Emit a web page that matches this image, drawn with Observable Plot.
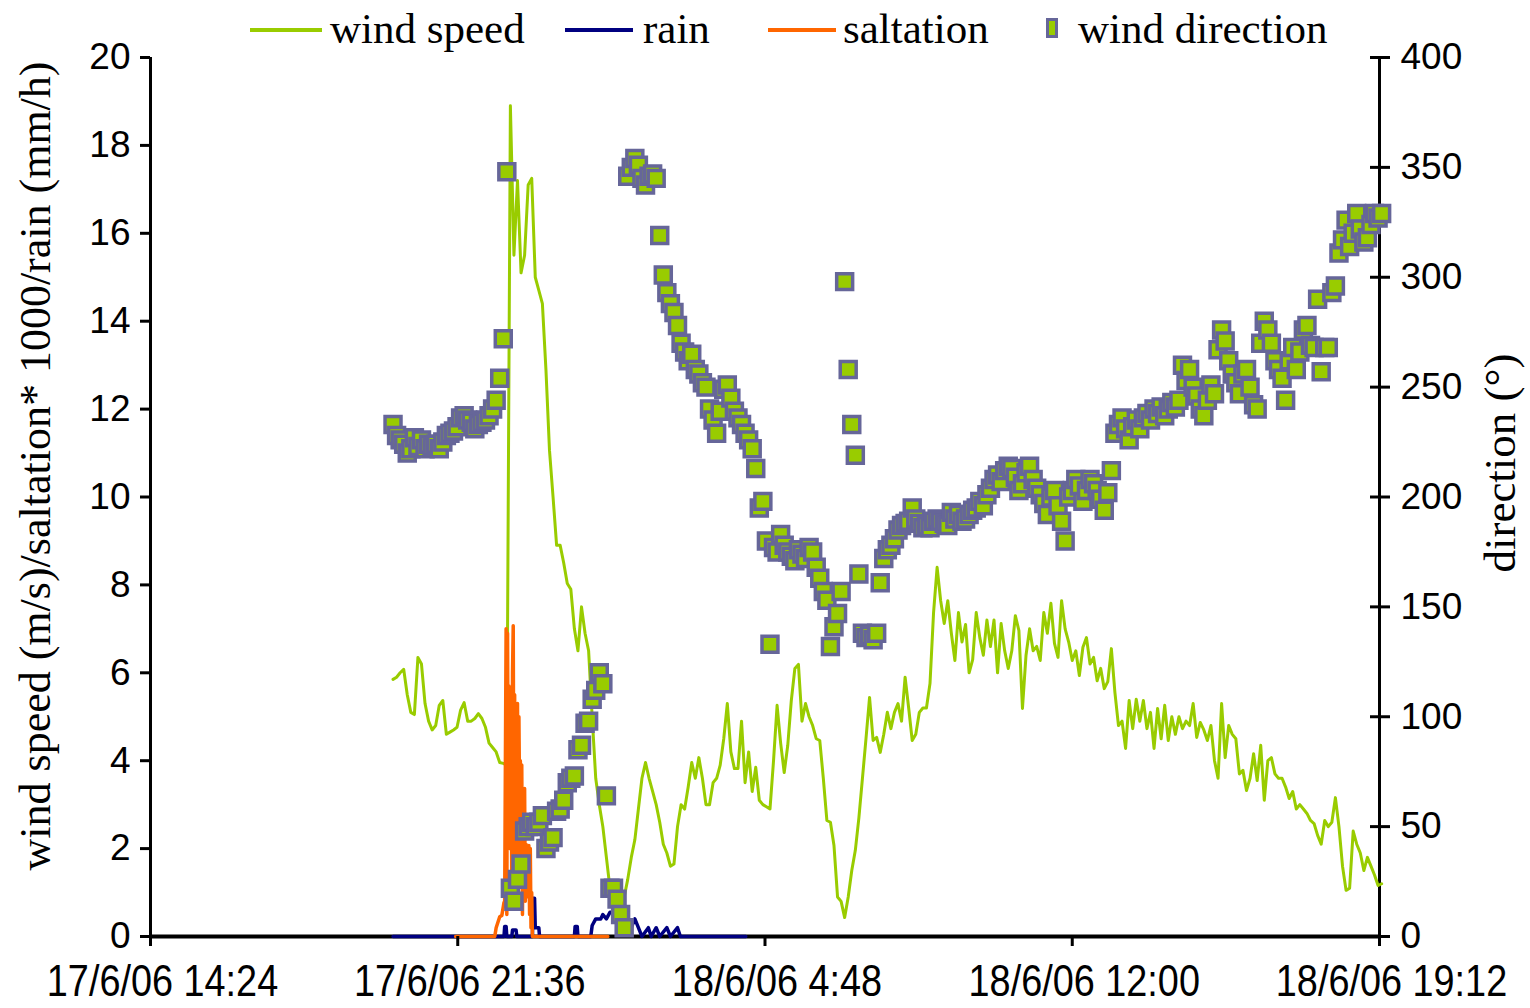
<!DOCTYPE html>
<html>
<head>
<meta charset="utf-8">
<script src="https://cdn.jsdelivr.net/npm/d3@7"></script>
<script src="https://cdn.jsdelivr.net/npm/@observablehq/plot@0.6"></script>
<style>
  body { margin: 0; background: #fff; }
  #wrap { position: relative; width: 1530px; height: 1008px; overflow: hidden; background: #fff; }
  #chart { position: absolute; left: 0; top: 0; }
  #legend { position: absolute; left: 0; top: 0; width: 1530px; height: 52px; z-index: 2;
            font-family: "Liberation Serif", "Times New Roman", serif; font-size: 43px; line-height: 1; }
  #legend .sw { position: absolute; height: 4px; }
  #legend .tx { position: absolute; white-space: pre; color: #000; }
  #legend .mk { position: absolute; box-sizing: border-box; border: 3px solid #666699; background: #99cc00; }
</style>
</head>
<body>
<div id="wrap">
  <div id="chart"></div>
  <div id="legend"></div>
</div>
<script>
// ---- data -------------------------------------------------------------
// wind speed (m/s) and wind direction (deg), 5-minute samples from 17/6/06 20:05
const windStart = "2006-06-17 20:05";
const windStepMinutes = 5;

const windSpeed = [
  5.85, 5.9, 6.0, 6.08, 5.5, 5.1, 5.05, 6.35, 6.2, 5.3,
  4.9, 4.7, 4.8, 5.26, 5.37, 4.6, 4.65, 4.7, 4.76, 5.15,
  5.32, 4.9, 4.9, 4.96, 5.07, 4.96, 4.76, 4.4, 4.3, 4.2,
  3.96, 3.94, 3.9, 18.9, 15.5, 17.2, 15.1, 15.5, 17.1, 17.25,
  15.0, 14.7, 14.4, 12.9, 11.06, 10.0, 8.9, 8.9, 8.5, 8.03,
  7.9, 7.0, 6.5, 7.5, 6.9, 6.5, 5.0, 3.6, 3.0, 2.5,
  1.8, 1.1, 0.6, 0.5, 0.6, 0.9, 1.3, 1.8, 2.2, 2.9,
  3.6, 3.96, 3.6, 3.3, 3.0, 2.6, 2.1, 1.9, 1.6, 1.65,
  2.5, 3.0, 2.9, 3.4, 3.96, 3.6, 4.07, 3.6, 3.0, 3.0,
  3.5, 3.6, 3.9, 4.5, 5.3, 4.2, 3.82, 3.82, 4.9, 3.5,
  4.2, 3.3, 3.85, 3.1, 3.0, 2.95, 2.9, 4.0, 5.26, 4.4,
  3.73, 4.35, 5.37, 6.1, 6.19, 4.9, 5.3, 5.0, 4.8, 4.5,
  4.46, 3.6, 2.64, 2.6, 2.07, 0.9, 0.8, 0.43, 0.9, 1.5,
  1.96, 2.7, 3.6, 4.5, 5.44, 4.46, 4.53, 4.19, 4.6, 5.1,
  4.73, 5.1, 5.3, 4.9, 5.9, 5.2, 4.46, 4.6, 5.1, 5.2,
  5.2, 5.76, 7.37, 8.4, 7.64, 7.12, 7.64, 6.9, 6.28, 7.37,
  6.7, 7.1, 6.0, 6.3, 7.37, 6.8, 6.4, 7.2, 6.6, 7.2,
  6.0, 7.12, 6.5, 6.1, 6.5, 7.3, 6.96, 5.19, 6.4, 7.0,
  6.5, 6.6, 6.28, 7.37, 6.9, 7.58, 6.67, 6.35, 7.64, 7.0,
  6.7, 6.28, 6.5, 5.94, 6.58, 6.8, 6.2, 6.35, 5.82, 6.1,
  5.64, 5.8, 6.55, 5.55, 4.8, 4.9, 4.28, 5.37, 4.73, 5.4,
  4.9, 5.37, 4.73, 5.1, 4.28, 5.19, 4.5, 5.26, 4.46, 5.0,
  4.6, 5.0, 4.73, 4.9, 4.8, 5.3, 4.53, 4.87, 4.7, 4.46,
  4.8, 4.0, 3.6, 5.3, 4.07, 4.8, 4.6, 4.5, 3.7, 3.78,
  3.32, 3.6, 4.16, 3.55, 4.35, 3.1, 4.0, 4.07, 3.7, 3.6,
  3.6, 3.4, 3.14, 3.3, 2.9, 3.0, 2.9, 2.8, 2.64, 2.57,
  2.3, 2.1, 2.64, 2.5, 2.6, 3.16, 2.5, 1.6, 1.05, 1.1,
  2.4, 2.1, 1.9, 1.5, 1.8, 1.6, 1.4, 1.16, 1.2
];

const windDirection = [
  233, 228, 226, 224, 220, 222, 227, 223, 226, 222,
  224, 223, 224, 222, 225, 228, 229, 230, 232, 236,
  237, 235, 234, 231, 233, 234, 235, 237, 240, 244,
  254, 272, 348, 22, 16, 26, 33, 48, 50, 52,
  50, 52, 55, 40, 43, 45, 57, 58, 62, 70,
  72, 73, 85, 87, 97, 98, 108, 112, 120, 115,
  64, 22, 22, 17, 10, 4, 346, 350, 354, 351,
  345, 342, 346, 347, 345, 319, 301, 293, 288, 284,
  278, 270, 266, 262, 265, 258, 256, 252, 250, 240,
  235, 229, 239, 249, 251, 245, 239, 236, 233, 229,
  226, 222, 213, 195, 198, 180, 133, 177, 175, 183,
  178, 175, 173, 171, 176, 174, 172, 177, 175, 168,
  163, 157, 153, 132, 141, 147, 157, 298, 258, 233,
  219, 165, 138, 136, 137, 135, 138, 161, 172, 176,
  178, 181, 185, 187, 188, 189, 195, 190, 188, 186,
  187, 186, 189, 190, 189, 188, 187, 193, 190, 192,
  189, 190, 192, 194, 195, 198, 196, 201, 204, 208,
  210, 207, 212, 214, 213, 209, 203, 206, 211, 214,
  208, 204, 201, 197, 192, 200, 203, 196, 189, 180,
  200, 203, 208, 205, 198, 203, 208, 206, 203, 199,
  194, 202, 212, 229, 233, 236, 231, 226, 232, 235,
  231, 236, 238, 235, 240, 238, 241, 237, 240, 243,
  241, 244, 260, 253, 258, 250, 246, 240, 237, 244,
  251, 247, 267, 276, 271, 262, 256, 252, 247, 256,
  258, 250, 242, 240, 270, 280, 276, 270, 262, 258,
  254, 244, 262, 268, 258, 266, 276, 278, 269, 268,
  290, 257, 268, 268, 293, 296, 311, 317, 326, 314,
  320, 329, 322, 316, 318, 324, 329, 327, 329
];

// rain (mm/h)
const rainTimes = [
  "2006-06-17 20:05", "2006-06-17 22:41", "2006-06-17 22:42", "2006-06-17 22:44", "2006-06-17 22:45",
  "2006-06-17 22:52", "2006-06-17 22:53", "2006-06-17 22:58", "2006-06-17 22:59", "2006-06-17 23:21",
  "2006-06-17 23:22", "2006-06-17 23:24", "2006-06-17 23:25", "2006-06-17 23:30", "2006-06-17 23:31",
  "2006-06-18 00:20", "2006-06-18 00:21", "2006-06-18 00:24", "2006-06-18 00:25", "2006-06-18 00:43",
  "2006-06-18 00:45", "2006-06-18 00:50", "2006-06-18 00:57", "2006-06-18 01:00", "2006-06-18 01:05",
  "2006-06-18 01:10", "2006-06-18 01:18", "2006-06-18 01:22", "2006-06-18 01:30", "2006-06-18 01:35",
  "2006-06-18 01:40", "2006-06-18 01:45", "2006-06-18 01:50", "2006-06-18 01:55", "2006-06-18 02:04",
  "2006-06-18 02:08", "2006-06-18 02:15", "2006-06-18 02:20", "2006-06-18 02:30", "2006-06-18 02:35",
  "2006-06-18 02:45", "2006-06-18 02:49", "2006-06-18 04:21"
];
const rainValues = [
  0, 0, 0.23, 0.23, 0,
  0, 0.15, 0.15, 0, 0,
  0.87, 0.87, 0.2, 0.2, 0,
  0, 0.23, 0.23, 0, 0,
  0.25, 0.4, 0.4, 0.5, 0.4,
  0.55, 0.55, 0.4, 0.4, 0.2,
  0.2, 0.4, 0.2, 0, 0.2,
  0, 0.2, 0, 0.2, 0,
  0.2, 0, 0
];

// saltation (x1000)
const saltationTimes = [
  "2006-06-17 21:33", "2006-06-17 22:28", "2006-06-17 22:30", "2006-06-17 22:35", "2006-06-17 22:38",
  "2006-06-17 22:41", "2006-06-17 22:42", "2006-06-17 22:43", "2006-06-17 22:44", "2006-06-17 22:45",
  "2006-06-17 22:46", "2006-06-17 22:47", "2006-06-17 22:48", "2006-06-17 22:49", "2006-06-17 22:50",
  "2006-06-17 22:51", "2006-06-17 22:52", "2006-06-17 22:53", "2006-06-17 22:54", "2006-06-17 22:55",
  "2006-06-17 22:56", "2006-06-17 22:57", "2006-06-17 22:58", "2006-06-17 22:59", "2006-06-17 23:00",
  "2006-06-17 23:01", "2006-06-17 23:02", "2006-06-17 23:03", "2006-06-17 23:04", "2006-06-17 23:05",
  "2006-06-17 23:06", "2006-06-17 23:07", "2006-06-17 23:08", "2006-06-17 23:09", "2006-06-17 23:10",
  "2006-06-17 23:11", "2006-06-17 23:12", "2006-06-17 23:13", "2006-06-17 23:14", "2006-06-17 23:15",
  "2006-06-17 23:16", "2006-06-17 23:17", "2006-06-17 23:18", "2006-06-17 23:19", "2006-06-17 23:20",
  "2006-06-17 23:21", "2006-06-18 01:07"
];
const saltationValues = [
  0, 0, 0.2, 0.45, 0.48,
  0.77, 0.8, 4.0, 7.0, 0.5,
  6.9, 3.0, 5.7, 2.0, 4.5,
  4.46, 1.0, 6.0, 7.07, 2.0,
  5.5, 1.5, 5.3, 2.5, 5.3,
  1.0, 5.0, 3.0, 4.0, 1.5,
  3.9, 0.5, 3.0, 1.0, 3.37,
  0.8, 2.1, 0.9, 2.0, 1.0,
  2.07, 0.5, 2.0, 0.2, 1.0,
  0, 0
];

// axis ticks
const timeTicks = ["2006-06-17 14:24", "2006-06-17 21:36", "2006-06-18 04:48", "2006-06-18 12:00", "2006-06-18 19:12"];
const speedTicks = [0, 2, 4, 6, 8, 10, 12, 14, 16, 18, 20];
const directionTicks = [0, 50, 100, 150, 200, 250, 300, 350, 400];

// ---- build ------------------------------------------------------------
const parse = d3.utcParse("%Y-%m-%d %H:%M");
const fmt = d3.utcFormat("%-d/%-m/%y %-H:%M");
const t0 = parse(windStart);
const degPerUnit = 400 / 20; // right axis 0–400° shares the 0–20 left scale

const wind = windSpeed.map((v, i) => ({t: d3.utcMinute.offset(t0, i * windStepMinutes), v}));
const direction = windDirection.map((v, i) => ({t: d3.utcMinute.offset(t0, i * windStepMinutes), v}));
const rain = rainTimes.map((s, i) => ({t: parse(s), v: rainValues[i]}));
const saltation = saltationTimes.map((s, i) => ({t: parse(s), v: saltationValues[i]}));
const xTicks = timeTicks.map(parse);
const xDomain = [xTicks[0], xTicks[xTicks.length - 1]];

const serif = "Liberation Serif, Times New Roman, serif";

const chart = Plot.plot({
  width: 1530,
  height: 1008,
  marginTop: 57,
  marginBottom: 72,
  marginLeft: 150,
  marginRight: 151,
  style: {fontFamily: "Liberation Sans, Arial, sans-serif", fontSize: "37px", color: "#000", background: "#fff"},
  x: {type: "utc", domain: xDomain},
  y: {domain: [0, 20]},
  marks: [
    // frame lines
    Plot.ruleX(xDomain, {stroke: "#000", strokeWidth: 3}),
    Plot.ruleY([0], {stroke: "#000", strokeWidth: 4}),
    // series
    Plot.line(wind, {x: "t", y: "v", stroke: "#99cc00", strokeWidth: 3}),
    Plot.line(rain, {x: "t", y: "v", stroke: "#000080", strokeWidth: 3.5}),
    Plot.line(saltation, {x: "t", y: "v", stroke: "#ff6600", strokeWidth: 3.5}),
    Plot.dot(direction, {
      x: "t", y: d => d.v / degPerUnit, symbol: "square", r: 9,
      fill: "#99cc00", stroke: "#666699", strokeWidth: 3.5
    }),
    // x axis: tick marks, then labels nudged right
    Plot.axisX({ticks: xTicks, tickSize: 10, strokeWidth: 3, tickFormat: () => "", label: null}),
    Plot.axisX({ticks: xTicks, tickSize: 0, tickPadding: 28, tickFormat: fmt, dx: 12, label: null, fontSize: 44}),
    // left axis
    Plot.axisY({ticks: speedTicks, tickSize: 10, strokeWidth: 3, tickPadding: 10, label: null, fontSize: 37}),
    // right axis: ticks crossing the line, then labels
    Plot.axisY({anchor: "right", ticks: directionTicks.map(d => d / degPerUnit), tickSize: 20, dx: -10,
                strokeWidth: 3, tickFormat: () => "", label: null}),
    Plot.axisY({anchor: "right", ticks: directionTicks.map(d => d / degPerUnit), tickSize: 0, tickPadding: 21,
                tickFormat: d => d * degPerUnit, label: null, fontSize: 37}),
    // axis titles
    Plot.text(["wind speed (m/s)/saltation* 1000/rain (mm/h)"], {
      frameAnchor: "left", textAnchor: "middle", rotate: -90, dx: -115, dy: -31,
      fontFamily: serif, fontSize: 44, fill: "#000"
    }),
    Plot.text(["direction (°)"], {
      frameAnchor: "right", textAnchor: "middle", rotate: -90, dx: 121, dy: -34,
      fontFamily: serif, fontSize: 45, fill: "#000"
    })
  ]
});

// the date labels use a tall, condensed face
d3.select(chart).selectAll('g[aria-label="x-axis tick label"] text')
  .attr("transform", function () { return (this.getAttribute("transform") || "") + " scale(0.86,1)"; });

document.getElementById("chart").append(chart);

// ---- legend -------------------------------------------------------------
const legend = document.getElementById("legend");
function add(cls, style, text) {
  const el = document.createElement("div");
  el.className = cls;
  Object.assign(el.style, style);
  if (text) el.textContent = text;
  legend.append(el);
}
add("sw", {left: "250px", width: "72px", top: "28px", background: "#99cc00"});
add("tx", {left: "330px", top: "7px"}, "wind speed");
add("sw", {left: "565px", width: "68px", top: "28px", background: "#000080"});
add("tx", {left: "643px", top: "7px"}, "rain");
add("sw", {left: "768px", width: "68px", top: "28px", background: "#ff6600"});
add("tx", {left: "843px", top: "7px"}, "saltation");
add("mk", {left: "1046px", width: "12px", top: "18px", height: "20px"});
add("tx", {left: "1078px", top: "7px"}, "wind direction");
</script>
</body>
</html>
